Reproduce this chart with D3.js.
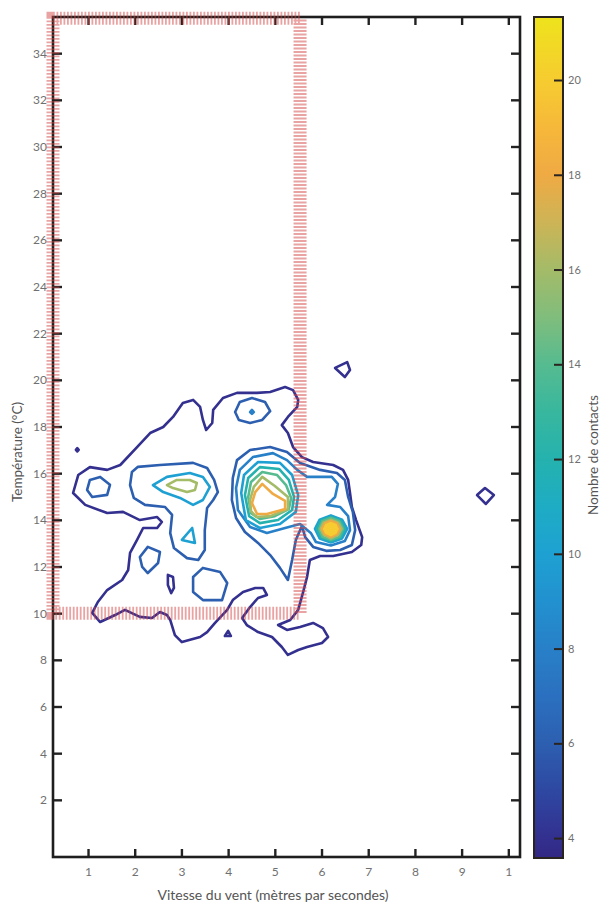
<!DOCTYPE html>
<html>
<head>
<meta charset="utf-8">
<script src="https://cdn.jsdelivr.net/npm/d3@7"></script>
<style>
  body { margin: 0; background: #fff; }
  text { font-family: Lato, "Open Sans", sans-serif; }
</style>
</head>
<body>
<div id="chart"></div>
<script>
var width = 607
var height = 904

// axes
var xTicks = [1, 2, 3, 4, 5, 6, 7, 8, 9, 10]
var xTickLabels = ["1", "2", "3", "4", "5", "6", "7", "8", "9", "1"]
var yTicks = [2, 4, 6, 8, 10, 12, 14, 16, 18, 20, 22, 24, 26, 28, 30, 32, 34]
var cbTicks = [4, 6, 8, 10, 12, 14, 16, 18, 20]

// colour bar range (nombre de contacts)
var cbDomain = [3.58, 21.33]
var cbStopValues = [3.58, 4, 5, 6, 7, 8, 9, 10, 11, 12, 13, 14, 15, 16, 17, 18, 19, 20, 21.33]
var cbStopColors = ["#322783", "#33308f", "#2e48a2", "#2d5fb0", "#2b70c0", "#2880c8", "#2291cf", "#1ea1d2",
                    "#1eacc4", "#25b2ae", "#38b79e", "#56bb90", "#80bd7c", "#a4bb68", "#cdb456", "#efaa44",
                    "#f6b83a", "#f6cc30", "#eee31c"]

// zone hachurée
var zoneWind = [0.25, 5.54]
var zoneTemp = [10, 35.5]

// contours: [vent (m/s), température (°C)]
var contours4 = [
  [[0.68,15.15],[0.79,15.92],[1.04,16.26],[1.41,16.14],[1.69,16.35],[2.05,17.12],[2.33,17.72],[2.61,17.98],[2.82,18.41],
   [3.03,19.01],[3.25,19.14],[3.40,18.84],[3.46,18.28],[3.53,17.85],[3.66,18.15],[3.68,18.71],[3.89,19.22],[4.19,19.44],
   [4.62,19.44],[4.90,19.48],[5.22,19.69],[5.39,19.56],[5.50,19.14],[5.48,18.84],[5.28,18.41],[5.15,18.06],[5.28,17.72],
   [5.39,17.12],[5.58,16.69],[5.82,16.48],[6.25,16.35],[6.46,16.14],[6.57,15.71],[6.61,15.15],[6.65,14.55],[6.74,13.99],
   [6.87,13.26],[6.85,12.92],[6.65,12.62],[6.25,12.45],[5.97,12.45],[5.75,12.28],[5.69,11.55],[5.60,10.86],[5.50,10.14],
   [5.33,9.71],[5.07,9.49],[5.26,9.28],[5.54,9.41],[5.82,9.58],[6.03,9.36],[6.14,8.98],[6.01,8.72],[5.69,8.55],[5.50,8.42],
   [5.28,8.21],[5.15,8.55],[4.94,8.98],[4.64,9.19],[4.40,9.49],[4.30,9.79],[4.47,10.26],[4.64,10.65],[4.83,10.78],
   [4.75,11.08],[4.58,11.08],[4.32,10.91],[4.10,10.56],[3.98,10.14],[3.72,9.58],[3.55,9.19],[3.40,8.98],[3.01,8.76],
   [2.86,9.06],[2.76,9.71],[2.69,9.92],[2.54,10.05],[2.37,9.79],[2.11,9.84],[1.79,10.14],[1.58,9.92],[1.26,9.62],
   [1.09,10.01],[1.21,10.48],[1.41,10.99],[1.73,11.42],[1.86,11.85],[1.90,12.58],[2.05,13.14],[2.18,13.65],[2.48,13.65],
   [2.58,13.91],[2.48,14.12],[2.11,13.99],[1.75,14.34],[1.41,14.29],[0.94,14.64]],
  [[0.74,17.0],[0.77,17.07],[0.80,17.0],[0.77,16.93]],
  [[2.71,11.64],[2.82,11.55],[2.84,11.08],[2.78,10.86],[2.71,11.21]],
  [[3.93,9.02],[4.06,9.02],[4.00,9.24]],
  [[6.29,20.51],[6.55,20.76],[6.61,20.42],[6.50,20.12]],
  [[9.33,15.06],[9.50,15.36],[9.69,15.06],[9.52,14.68]]
]

var contours6 = [
  [[4.15,18.62],[4.25,19.05],[4.51,19.22],[4.79,19.05],[4.90,18.66],[4.73,18.28],[4.47,18.15],[4.23,18.28]],
  [[0.98,15.28],[1.04,15.71],[1.26,15.84],[1.47,15.50],[1.41,15.07],[1.09,14.98]],
  [[1.94,16.05],[2.07,16.27],[2.54,16.35],[3.25,16.44],[3.55,16.22],[3.70,15.71],[3.78,15.19],[3.68,14.85],[3.55,14.51],
   [3.50,13.56],[3.50,12.71],[3.36,12.28],[3.12,12.36],[2.84,12.79],[2.76,13.43],[2.80,14.21],[2.65,14.55],[2.22,14.64],
   [1.98,14.94],[1.90,15.49]],
  [[2.11,12.41],[2.28,12.84],[2.54,12.62],[2.50,12.15],[2.28,11.72],[2.16,11.98]],
  [[3.25,11.55],[3.46,11.94],[3.83,11.76],[3.98,11.29],[3.87,10.56],[3.46,10.56],[3.25,10.91]],
  [[4.19,16.56],[4.47,16.99],[4.90,17.12],[5.26,16.91],[5.54,16.44],[5.97,16.14],[6.33,16.01],[6.50,15.71],[6.57,14.98],
   [6.67,14.34],[6.72,13.56],[6.65,12.92],[6.40,12.71],[6.10,12.67],[5.82,12.84],[5.65,13.26],[5.58,13.74],[5.45,13.14],
   [5.37,12.28],[5.28,11.42],[5.11,11.94],[4.90,12.49],[4.64,13.01],[4.36,13.48],[4.17,14.08],[4.08,14.85],[4.10,15.79]]
]

var contours8 = [
  [[4.47,18.62],[4.51,18.71],[4.55,18.62],[4.51,18.54]],
  [[4.25,16.14],[4.53,16.69],[4.96,16.86],[5.26,16.56],[5.48,16.14],[5.69,15.84],[6.22,15.84],[6.35,15.54],[6.29,14.98],
   [6.12,14.64],[6.40,14.55],[6.57,14.16],[6.61,13.56],[6.50,13.09],[6.20,12.90],[5.88,13.05],[5.77,13.44],[5.54,13.82],
   [5.22,13.65],[4.83,13.44],[4.47,13.69],[4.21,14.42],[4.17,15.36]]
]

var contours10 = [
  [[2.39,15.49],[2.69,15.84],[3.18,16.01],[3.46,15.84],[3.61,15.41],[3.46,14.85],[3.25,14.64],[2.97,14.94],[2.61,15.19]],
  [[3.01,13.14],[3.23,13.65],[3.29,13.01]],
  [[4.28,15.15],[4.34,15.92],[4.64,16.48],[5.11,16.44],[5.37,15.92],[5.50,15.06],[5.45,14.34],[5.11,13.82],[4.68,13.65],[4.38,13.99]],
  [[6.55,13.61],[6.44,13.20],[6.20,13.03],[5.96,13.20],[5.86,13.61],[5.96,14.01],[6.20,14.19],[6.44,14.01]]
]

var contours12 = [
  [[4.36,15.06],[4.43,15.79],[4.68,16.26],[5.09,16.18],[5.30,15.71],[5.41,14.98],[5.37,14.42],[5.07,13.99],[4.68,13.86],[4.45,14.16]],
  [[6.50,13.61],[6.41,13.25],[6.20,13.09],[5.99,13.25],[5.90,13.61],[5.99,13.97],[6.20,14.12],[6.41,13.97]]
]

var contours14 = [
  [[4.43,14.98],[4.49,15.62],[4.73,16.05],[5.05,15.92],[5.24,15.49],[5.35,14.94],[5.30,14.46],[5.00,14.16],[4.68,14.04],[4.49,14.29]],
  [[6.46,13.61],[6.38,13.27],[6.20,13.14],[6.02,13.27],[5.95,13.61],[6.02,13.94],[6.20,14.08],[6.38,13.94]]
]

var contours16 = [
  [[2.69,15.49],[2.90,15.71],[3.18,15.71],[3.33,15.58],[3.29,15.28],[3.12,15.19],[2.82,15.36]],
  [[4.47,14.85],[4.55,15.41],[4.73,15.84],[5.00,15.45],[5.28,14.98],[5.28,14.46],[4.90,14.16],[4.60,14.12],[4.49,14.38]],
  [[6.43,13.61],[6.36,13.37],[6.20,13.20],[6.04,13.37],[5.98,13.61],[6.04,13.88],[6.20,14.01],[6.36,13.88]]
]

var contours18 = [
  [[4.51,14.72],[4.58,15.19],[4.73,15.54],[4.96,15.11],[5.22,14.81],[5.22,14.46],[4.83,14.25],[4.62,14.25]],
  [[6.39,13.61],[6.33,13.39],[6.20,13.27],[6.07,13.39],[6.01,13.61],[6.07,13.84],[6.20,13.95],[6.33,13.84]]
]

var contours20 = [
  [[6.34,13.61],[6.30,13.44],[6.20,13.35],[6.10,13.44],[6.06,13.61],[6.10,13.78],[6.20,13.86],[6.30,13.78]],
  [[6.29,13.61],[6.26,13.50],[6.20,13.44],[6.14,13.50],[6.11,13.61],[6.14,13.72],[6.20,13.78],[6.26,13.72]],
  [[6.25,13.61],[6.20,13.54],[6.15,13.61],[6.20,13.69]]
]

var contourLevels = [4, 6, 8, 10, 12, 14, 16, 18, 20]
var contourRings = [contours4, contours6, contours8, contours10, contours12, contours14, contours16, contours18, contours20]


var margin = {left: 53, right: 87, top: 17, bottom: 47}
var plotW = width - margin.left - margin.right
var plotH = height - margin.top - margin.bottom

var svg = d3.select("#chart")
    .append("svg")
    .attr("width", width)
    .attr("height", height)

var x = d3.scaleLinear()
    .domain([0.25, 10.25])
    .range([margin.left, margin.left + plotW])

var y = d3.scaleLinear()
    .domain([-0.45, 35.55])
    .range([margin.top + plotH, margin.top])

var color = d3.scaleLinear()
    .domain(cbStopValues)
    .range(cbStopColors)

var line = d3.line()
    .x(d => x(d[0]))
    .y(d => y(d[1]))
    .curve(d3.curveLinearClosed)


function drawContours(){

    contourLevels.forEach(function(level, i){
        svg.append("g")
            .selectAll("path")
            .data(contourRings[i])
            .enter()
            .append("path")
            .attr("d", line)
            .attr("fill", "none")
            .attr("stroke", color(level))
            .attr("stroke-width", 2.6)
            .attr("stroke-linejoin", "round")
    })
}


function drawAxes(){

    var styleAxis = function(g){
        g.select(".domain").remove()
        g.selectAll(".tick line").attr("stroke", "#222").attr("stroke-width", 2.4)
        g.selectAll(".tick text").attr("fill", "#707070").style("font-size", "12px")
    }

    svg.append("g")
        .attr("transform", `translate(0,${margin.top + plotH})`)
        .call(d3.axisBottom(x).tickValues(xTicks).tickSize(-8).tickPadding(10)
            .tickFormat((d, i) => xTickLabels[i]))
        .call(styleAxis)

    svg.append("g")
        .attr("transform", `translate(0,${margin.top})`)
        .call(d3.axisTop(x).tickValues(xTicks).tickSize(-8).tickFormat(""))
        .call(styleAxis)

    svg.append("g")
        .attr("transform", `translate(${margin.left},0)`)
        .call(d3.axisLeft(y).tickValues(yTicks).tickSize(-9).tickPadding(6))
        .call(styleAxis)

    svg.append("g")
        .attr("transform", `translate(${margin.left + plotW},0)`)
        .call(d3.axisRight(y).tickValues(yTicks).tickSize(-9).tickFormat(""))
        .call(styleAxis)

    svg.append("rect")
        .attr("x", margin.left)
        .attr("y", margin.top)
        .attr("width", plotW)
        .attr("height", plotH)
        .attr("fill", "none")
        .attr("stroke", "#1e1e1e")
        .attr("stroke-width", 2.6)

    svg.append("text")
        .attr("x", 273)
        .attr("y", 900)
        .attr("text-anchor", "middle")
        .attr("fill", "#555")
        .style("font-size", "14px")
        .text("Vitesse du vent (mètres par secondes)")

    svg.append("text")
        .attr("transform", "translate(22,452) rotate(-90)")
        .attr("text-anchor", "middle")
        .attr("fill", "#555")
        .style("font-size", "13.5px")
        .text("Température (°C)")
}


function drawZone(){

    svg.append("rect")
        .attr("x", x(zoneWind[0]))
        .attr("y", y(zoneTemp[1]))
        .attr("width", x(zoneWind[1]) - x(zoneWind[0]))
        .attr("height", y(zoneTemp[0]) - y(zoneTemp[1]))
        .attr("fill", "none")
        .attr("stroke", "#d44848")
        .attr("stroke-opacity", 0.5)
        .attr("stroke-width", 13)
        .attr("stroke-dasharray", "1.8,1.7")
}


function drawColorbar(){

    var cbX = 534, cbW = 29
    var cb = d3.scaleLinear()
        .domain(cbDomain)
        .range([858, 17])

    var grad = svg.append("defs")
        .append("linearGradient")
        .attr("id", "cbgrad")
        .attr("x1", 0).attr("y1", 1)
        .attr("x2", 0).attr("y2", 0)

    grad.selectAll("stop")
        .data(cbStopValues)
        .enter()
        .append("stop")
        .attr("offset", d => (d - cbDomain[0]) / (cbDomain[1] - cbDomain[0]))
        .attr("stop-color", d => color(d))

    svg.append("rect")
        .attr("x", cbX)
        .attr("y", cb(cbDomain[1]))
        .attr("width", cbW)
        .attr("height", cb(cbDomain[0]) - cb(cbDomain[1]))
        .attr("fill", "url(#cbgrad)")
        .attr("stroke", "#2a2420")
        .attr("stroke-width", 2)

    svg.append("g")
        .attr("transform", `translate(${cbX + cbW},0)`)
        .call(d3.axisRight(cb).tickValues(cbTicks).tickSize(-9).tickPadding(5))
        .call(g => g.select(".domain").remove())
        .call(g => g.selectAll(".tick line").attr("stroke", "#2a2420").attr("stroke-width", 2))
        .call(g => g.selectAll(".tick text").attr("fill", "#707070").style("font-size", "11px"))

    svg.append("text")
        .attr("transform", "translate(598,455) rotate(-90)")
        .attr("text-anchor", "middle")
        .attr("fill", "#555")
        .style("font-size", "13.5px")
        .text("Nombre de contacts")
}

drawContours()
drawAxes()
drawZone()
drawColorbar()
</script>
</body>
</html>
